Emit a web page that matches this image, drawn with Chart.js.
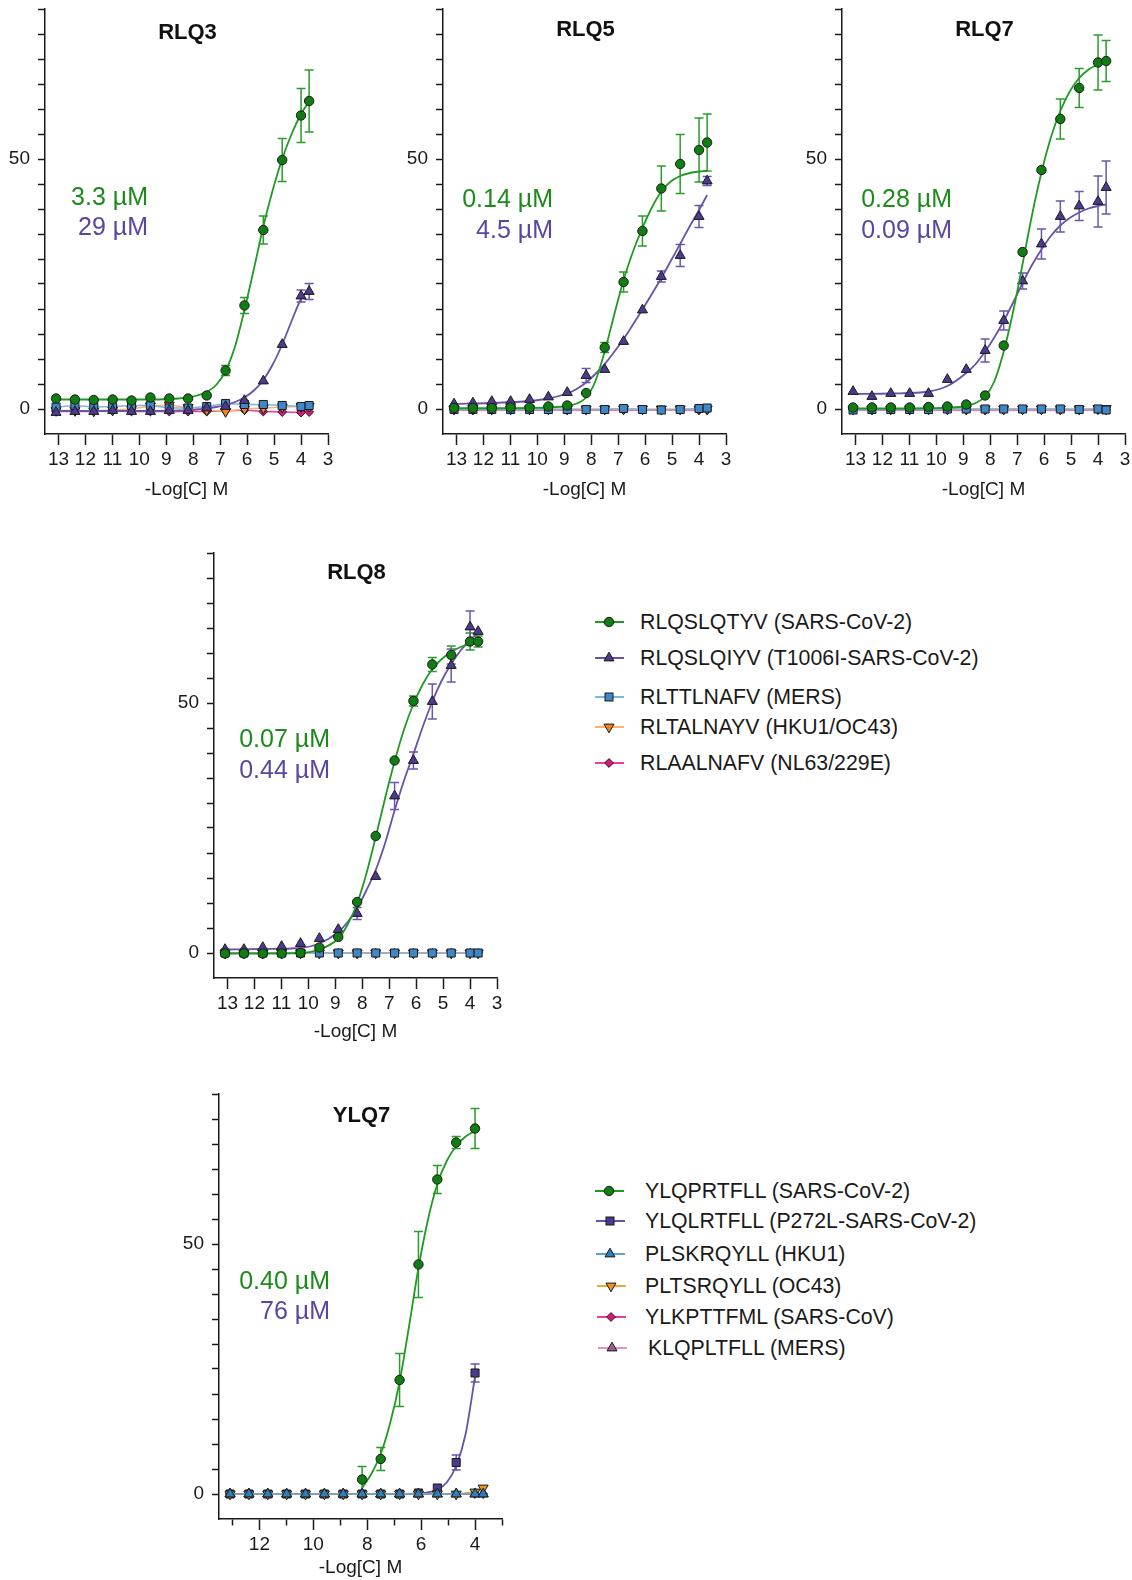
<!DOCTYPE html>
<html><head><meta charset="utf-8">
<script src="https://cdn.jsdelivr.net/npm/chart.js@4.4.0/dist/chart.umd.min.js"></script>
<style>
html,body{margin:0;padding:0;background:#fff;overflow:hidden;width:1132px;height:1580px;}
canvas{position:absolute;}
.row{position:absolute;height:24px;line-height:24px;white-space:nowrap;font-family:"Liberation Sans",Arial,sans-serif;font-size:21.3px;color:#1a1a1a;}
svg{position:absolute;}
</style></head><body>
<canvas id="c1" width="340" height="510" style="left:0;top:0"></canvas>
<canvas id="c2" width="340" height="510" style="left:398px;top:0"></canvas>
<canvas id="c3" width="335" height="510" style="left:797px;top:0"></canvas>
<canvas id="c4" width="340" height="510" style="left:169px;top:544px"></canvas>
<canvas id="c5" width="340" height="495" style="left:174px;top:1085px"></canvas>
<div id="legends"></div>
<script>
// ---------- data ----------
const logC = [13.09, 12.39, 11.69, 10.99, 10.29, 9.59, 8.89, 8.19, 7.50, 6.80, 6.10, 5.40, 4.70, 4.00, 3.70];
const fitX = [13.09, 11.69, 10.29, 9.59, 8.89, 8.54, 8.19, 7.85, 7.50, 7.15, 6.80, 6.45, 6.10, 5.75, 5.40, 5.05, 4.70, 4.35, 4.00, 3.70];
const xTickValues = [13, 12, 11, 10, 9, 8, 7, 6, 5, 4, 3];
const xLabelsRLQ = [13, 12, 11, 10, 9, 8, 7, 6, 5, 4, 3];
const xLabelsYLQ = [12, 10, 8, 6, 4];
const yTickValues = [0, 5, 10, 15, 20, 25, 30, 35, 40, 45, 50, 55, 60, 65, 70, 75, 80];
const yLabels = [0, 50];

const panelTitles = ['RLQ3', 'RLQ5', 'RLQ7', 'RLQ8', 'YLQ7'];
const ic50WT = ['3.3 µM', '0.14 µM', '0.28 µM', '0.07 µM', '0.40 µM'];
const ic50Mut = ['29 µM', '4.5 µM', '0.09 µM', '0.44 µM', '76 µM'];

const rlqNames = ['RLQSLQTYV (SARS-CoV-2)', 'RLQSLQIYV (T1006I-SARS-CoV-2)', 'RLTTLNAFV (MERS)', 'RLTALNAYV (HKU1/OC43)', 'RLAALNAFV (NL63/229E)'];
const ylqNames = ['YLQPRTFLL (SARS-CoV-2)', 'YLQLRTFLL (P272L-SARS-CoV-2)', 'PLSKRQYLL (HKU1)', 'PLTSRQYLL (OC43)', 'YLKPTTFML (SARS-CoV)', 'KLQPLTFLL (MERS)'];

// RLQ3
const rlq3WT = [2.1, 1.9, 1.8, 1.9, 1.7, 2.3, 2.1, 2.1, 2.7, 7.7, 20.7, 35.8, 49.8, 58.7, 61.6];
const rlq3WTErr = [0, 0, 0, 0, 0, 0, 0, 0, 0.3, 1.0, 1.6, 2.8, 4.3, 5.4, 6.2];
const rlq3WTFit = [1.9, 1.9, 1.9, 1.9, 2.0, 2.1, 2.3, 2.7, 3.4, 4.8, 7.6, 12.5, 19.8, 28.0, 36.5, 43.8, 50.0, 55.0, 59.0, 61.5];
const rlq3Mut = [-0.7, -0.5, -0.5, -0.3, -0.5, -0.5, -0.3, -0.3, 0.2, 0.5, 1.7, 5.6, 12.9, 22.6, 23.5];
const rlq3MutErr = [0, 0, 0, 0, 0, 0, 0, 0, 0, 0, 0, 0, 0, 1.2, 1.6];
const rlq3MutFit = [-0.4, -0.4, -0.4, -0.4, -0.35, -0.3, -0.25, -0.1, 0.1, 0.4, 0.8, 1.4, 2.3, 3.7, 5.8, 8.9, 12.9, 17.6, 22.0, 24.0];
const rlq3MERS = [0.4, 0.7, 0.4, 0.5, 0.7, 0.7, 0.2, 0.2, 0.5, 1.1, 0.9, 0.9, 0.7, 0.5, 0.7];
const rlq3HKU = [-0.3, -0.3, -0.4, -0.2, 0.0, 0.6, 0.8, 0.3, -0.2, -0.5, 0.0, 0.2, 0.4, 0.5, 0.5];
const rlq3NL63 = [-0.5, -0.5, -0.5, -0.4, -0.5, -0.5, -0.5, -0.5, -0.5, -0.4, -0.2, -0.5, -0.6, -0.7, -0.6];

// RLQ5
const rlq5WT = [0.2, 0.2, 0.2, 0.3, 0.3, 0.5, 0.7, 3.2, 12.3, 25.4, 35.6, 44.1, 49.0, 51.8, 53.3];
const rlq5WTErr = [0, 0, 0, 0, 0, 0, 0, 0, 1.0, 2.0, 3.0, 4.5, 5.9, 6.4, 5.7];
const rlq5WTFit = [0.15, 0.15, 0.2, 0.3, 0.6, 1.1, 2.3, 5.5, 11.5, 18.8, 25.8, 31.5, 36.2, 40.3, 43.5, 45.5, 46.6, 47.2, 47.5, 47.6];
const rlq5Mut = [1.0, 1.2, 1.5, 1.5, 1.9, 2.4, 3.3, 6.7, 7.9, 13.5, 19.8, 26.5, 30.7, 38.5, 45.6];
const rlq5MutErr = [0, 0, 0, 0, 0, 0, 0, 1.4, 0, 0, 0, 1.1, 2.2, 2.2, 0.9];
const rlq5MutFit = [1.0, 1.2, 1.6, 2.1, 3.1, 4.0, 5.3, 7.0, 9.0, 11.4, 14.0, 16.9, 19.9, 23.0, 26.2, 29.6, 33.0, 36.5, 39.8, 42.8];
const rlq5MERS = [-0.1, -0.1, -0.1, -0.1, -0.1, -0.1, -0.1, -0.1, -0.1, 0.1, -0.1, -0.2, -0.1, 0.1, 0.2];
const rlq5HKU = [0, 0, 0, 0, 0, 0, 0, 0, 0, 0, 0, 0, 0, 0, 0];
const rlq5NL63 = [-0.2, -0.2, -0.2, -0.2, -0.2, -0.2, -0.2, -0.2, -0.2, -0.2, -0.2, -0.2, -0.2, -0.2, -0.2];

// RLQ7
const rlq7WT = [0.3, 0.3, 0.3, 0.3, 0.4, 0.5, 0.9, 2.7, 12.7, 31.4, 47.8, 58.0, 64.2, 69.3, 69.6];
const rlq7WTErr = [0, 0, 0, 0, 0, 0, 0, 0, 0, 0, 0, 4.0, 3.9, 5.5, 4.1];
const rlq7WTFit = [0.1, 0.1, 0.15, 0.25, 0.6, 1.2, 2.5, 5.5, 11.5, 19.5, 29.0, 38.8, 47.3, 54.3, 59.6, 63.5, 66.2, 67.9, 68.9, 69.4];
const rlq7Mut = [3.5, 2.5, 3.1, 3.1, 3.1, 5.9, 7.9, 11.7, 17.7, 25.6, 33.0, 38.5, 40.6, 41.5, 44.3];
const rlq7MutErr = [0, 0, 0, 0, 0, 0, 0, 2.3, 1.9, 1.6, 3.0, 3.1, 2.9, 5.1, 5.3];
const rlq7MutFit = [3.0, 3.1, 3.5, 4.6, 7.2, 9.0, 11.5, 14.3, 17.6, 21.3, 25.2, 28.8, 31.9, 34.6, 36.7, 38.2, 39.3, 40.1, 40.6, 40.9];
const rlq7MERS = [-0.2, -0.1, -0.1, -0.1, -0.1, 0, 0, 0, 0, 0, 0, 0, -0.1, 0, -0.2];
const rlq7HKU = [0, 0, 0, 0, 0, 0, 0, 0, 0, 0, 0, 0, 0, 0.1, 0.1];
const rlq7NL63 = [-0.2, -0.2, -0.2, -0.2, -0.2, -0.2, -0.2, -0.2, -0.2, -0.2, -0.2, -0.2, -0.2, -0.2, -0.2];

// RLQ8
const rlq8WT = [-0.1, -0.1, -0.1, -0.1, 0.0, 1.1, 3.2, 10.2, 23.4, 38.5, 50.4, 57.7, 59.6, 62.3, 62.3];
const rlq8WTErr = [0, 0, 0, 0, 0, 0, 0, 0, 0, 0, 1.0, 1.4, 1.8, 1.7, 1.1];
const rlq8WTFit = [-0.1, -0.1, 0.0, 0.7, 2.9, 5.7, 9.9, 15.8, 23.2, 31.0, 38.3, 44.7, 49.8, 53.8, 56.8, 58.8, 60.2, 61.2, 61.8, 62.1];
const rlq8Mut = [0.7, 0.7, 1.1, 1.3, 1.9, 2.9, 4.7, 7.9, 15.3, 31.4, 38.5, 50.3, 57.5, 65.2, 64.3];
const rlq8MutErr = [0, 0, 0, 0, 0, 0, 0, 1.2, 0, 2.7, 1.7, 3.5, 3.3, 3.2, 0];
const rlq8MutFit = [0.7, 0.8, 1.0, 1.9, 4.2, 6.2, 8.9, 12.5, 16.6, 22.0, 28.5, 34.5, 39.8, 45.3, 50.3, 54.5, 57.8, 60.5, 62.6, 64.0];
const rlq8MERS = [0, 0, 0, 0, 0, 0, 0, 0, 0, 0, 0, 0, 0, 0, 0];
const rlq8HKU = [0, 0, 0, 0, 0, 0, 0, 0, 0, 0, 0, 0, 0, 0, 0];
const rlq8NL63 = [0, 0, 0, 0, 0, 0, 0, 0, 0, 0, 0, 0, 0, 0, 0];

// YLQ7
const ylqWTX = [8.19, 7.50, 6.80, 6.10, 5.40, 4.70, 4.00];
const ylqWT = [2.9, 7.0, 22.8, 45.9, 62.9, 70.3, 73.1];
const ylqWTErr = [2.6, 2.3, 5.3, 6.6, 2.8, 1.2, 4.0];
const ylqWTFitX = [8.19, 7.85, 7.50, 7.15, 6.80, 6.45, 6.10, 5.75, 5.40, 5.05, 4.70, 4.35, 4.00];
const ylqWTFit = [1.2, 4.0, 8.0, 14.2, 22.4, 33.5, 45.2, 54.8, 62.0, 66.6, 69.6, 71.5, 72.6];
const ylqMutX = [13.09, 12.39, 11.69, 10.99, 10.29, 9.59, 8.89, 8.19, 7.50, 6.80, 6.10, 5.40, 4.70, 4.00];
const ylqMut = [0, 0, 0, 0, 0, 0, 0, 0, 0, 0, 0.2, 1.2, 6.3, 24.2];
const ylqMutErr = [0, 0, 0, 0, 0, 0, 0, 0, 0, 0, 0, 0, 1.5, 1.8];
const ylqMutFitX = [8.19, 7.50, 6.80, 6.10, 5.75, 5.40, 5.05, 4.70, 4.35, 4.00];
const ylqMutFit = [0, 0, 0, 0.1, 0.3, 0.9, 2.3, 5.6, 12.0, 23.5];
const ylqHKU1 = [0, 0, 0, 0, 0, 0, 0, 0, 0, 0, 0, 0, 0, 0, 0];
const ylqOC43 = [0, 0, 0, 0, 0, 0, 0, 0, 0, 0, 0, 0, 0, 0.4, 1.2];
const ylqSARS = [0, 0, 0, 0, 0, 0, 0, 0, 0, 0, 0, 0, 0, 0, 0];
const ylqMERS = [0, 0, 0, 0, 0, 0, 0, 0, 0, 0, 0, 0, 0, 0, 0];

// ---------- styles ----------
const FONT = '"Liberation Sans", Arial, Helvetica, sans-serif';
const INK = '#1a1a1a';
const COL = {
  wt:    {fill: '#0f7d12', line: '#1f9a22', err: '#2a9c2a', text: '#1b8c1b'},
  mut:   {fill: '#4b3a8d', line: '#6852aa', err: '#6a56ae', text: '#5b45a0'},
  mers:  {fill: '#3f87c6', line: '#80b5e0'},
  hku:   {fill: '#f5821f', line: '#fbb374'},
  nl63:  {fill: '#d8187e', line: '#ee3d98'},
  yhku1: {fill: '#2b80c0', line: '#5ea3d8'},
  yoc43: {fill: '#ea961e', line: '#eda83c'},
  ysars: {fill: '#d8187e', line: '#ee3d98'},
  ymers: {fill: '#a35d93', line: '#dd96c7'}
};
const SHAPE = {
  circle: {style: 'circle', r: 4.7, rot: 0},
  tri: {style: 'triangle', r: 5.8, rot: 0},
  square: {style: 'rect', r: 5.7, rot: 0},
  down: {style: 'triangle', r: 5.8, rot: 180},
  diamond: {style: 'rectRot', r: 4.4, rot: 0}
};

function pointSet(xs, ys, color, shape, errs, showLine) {
  return {
    data: ys.map((y, i) => ({x: xs[i], y: y})),
    showLine: !!showLine,
    borderColor: color.line,
    borderWidth: 1.5,
    tension: 0,
    pointStyle: shape.style,
    pointRadius: shape.r,
    pointRotation: shape.rot,
    pointBackgroundColor: color.fill,
    pointBorderColor: INK,
    pointBorderWidth: 1,
    errors: errs || null,
    errColor: color.err
  };
}
function fitSet(xs, ys, color) {
  return {
    data: ys.map((y, i) => ({x: xs[i], y: y})),
    showLine: true,
    borderColor: color.line,
    borderWidth: 1.8,
    pointRadius: 0,
    cubicInterpolationMode: 'monotone',
    fill: false
  };
}

const errorBarPlugin = {
  id: 'errBars',
  beforeDatasetsDraw(chart) {
    const ctx = chart.ctx, xs = chart.scales.x, ys = chart.scales.y;
    chart.data.datasets.forEach(ds => {
      if (!ds.errors) return;
      ctx.save();
      ctx.strokeStyle = ds.errColor;
      ctx.lineWidth = 1.5;
      ds.data.forEach((p, i) => {
        const e = ds.errors[i];
        if (!e) return;
        const px = xs.getPixelForValue(p.x);
        const yt = ys.getPixelForValue(p.y + e), yb = ys.getPixelForValue(p.y - e);
        ctx.beginPath();
        ctx.moveTo(px, yt); ctx.lineTo(px, yb);
        ctx.moveTo(px - 4.5, yt); ctx.lineTo(px + 4.5, yt);
        ctx.moveTo(px - 4.5, yb); ctx.lineTo(px + 4.5, yb);
        ctx.stroke();
      });
      ctx.restore();
    });
  }
};

const textPlugin = {
  id: 'panelText',
  afterDraw(chart, args, o) {
    const a = chart.chartArea, ctx = chart.ctx;
    ctx.save();
    ctx.textBaseline = 'middle';
    ctx.font = 'bold 22px ' + FONT;
    ctx.fillStyle = '#111';
    ctx.textAlign = 'center';
    ctx.fillText(o.title, (a.left + a.right) / 2 + 1, a.top + o.titleDy);
    ctx.font = '25px ' + FONT;
    ctx.textAlign = 'right';
    ctx.fillStyle = COL.wt.text;
    ctx.fillText(o.ic1, a.left + o.icDx, a.top + o.icDy1);
    ctx.fillStyle = COL.mut.text;
    ctx.fillText(o.ic2, a.left + o.icDx, a.top + o.icDy2);
    ctx.restore();
  }
};

function makePanel(id, p) {
  const labels = p.xLabels;
  new Chart(document.getElementById(id), {
    type: 'scatter',
    data: {datasets: p.datasets},
    options: {
      responsive: false, animation: false, devicePixelRatio: 1,
      layout: {padding: {left: 0, right: p.padR, top: 9, bottom: 0}},
      events: [],
      plugins: {
        legend: {display: false}, tooltip: {enabled: false},
        panelText: p.text
      },
      scales: {
        x: {
          type: 'linear', reverse: true, min: 3, max: 13.5,
          afterBuildTicks: s => { s.ticks = xTickValues.map(v => ({value: v})); },
          afterFit: s => { s.height = p.xHeight; s.paddingLeft = 0; s.paddingRight = 0; },
          ticks: {
            autoSkip: false, maxRotation: 0, padding: 3, color: INK,
            font: {family: FONT, size: 19},
            callback: v => labels.includes(v) ? String(v) : ''
          },
          grid: {
            display: true, drawOnChartArea: false, drawTicks: true,
            tickLength: 11, tickWidth: 1.5, tickColor: INK,
            tickBorderDash: c => (p.minorDash && c.tick && !labels.includes(c.tick.value)) ? [6, 30] : []
          },
          border: {display: true, color: INK, width: 1.5},
          title: {display: true, text: '-Log[C] M', color: INK,
                  font: {family: FONT, size: 19}, padding: {top: 0, bottom: p.titlePad}}
        },
        y: {
          type: 'linear', min: -5, max: 80,
          afterBuildTicks: s => { s.ticks = yTickValues.map(v => ({value: v})); },
          afterFit: s => { s.width = 45; s.paddingTop = 0; s.paddingBottom = 0; },
          ticks: {
            autoSkip: false, padding: 8, color: INK,
            font: {family: FONT, size: 19},
            callback: v => yLabels.includes(v) ? String(v) : ''
          },
          grid: {display: true, drawOnChartArea: false, drawTicks: true,
                 tickLength: 7, tickWidth: 1.5, tickColor: INK},
          border: {display: true, color: INK, width: 1.5}
        }
      }
    },
    plugins: [errorBarPlugin, textPlugin]
  });
}

function rlqSets(wt, wtErr, wtFit, mut, mutErr, mutFit, mers, hku, nl63) {
  return [
    pointSet(logC, wt, COL.wt, SHAPE.circle, wtErr, false),
    fitSet(fitX, wtFit, COL.wt),
    pointSet(logC, mut, COL.mut, SHAPE.tri, mutErr, false),
    fitSet(fitX, mutFit, COL.mut),
    pointSet(logC, mers, COL.mers, SHAPE.square, null, true),
    pointSet(logC, hku, COL.hku, SHAPE.down, null, true),
    pointSet(logC, nl63, COL.nl63, SHAPE.diamond, null, true)
  ];
}

makePanel('c1', {padR: 12, xHeight: 76, titlePad: 9, xLabels: xLabelsRLQ,
  datasets: rlqSets(rlq3WT, rlq3WTErr, rlq3WTFit, rlq3Mut, rlq3MutErr, rlq3MutFit, rlq3MERS, rlq3HKU, rlq3NL63),
  text: {title: panelTitles[0], titleDy: 24, ic1: ic50WT[0], ic2: ic50Mut[0], icDx: 103, icDy1: 189, icDy2: 219}});
makePanel('c2', {padR: 12, xHeight: 76, titlePad: 9, xLabels: xLabelsRLQ,
  datasets: rlqSets(rlq5WT, rlq5WTErr, rlq5WTFit, rlq5Mut, rlq5MutErr, rlq5MutFit, rlq5MERS, rlq5HKU, rlq5NL63),
  text: {title: panelTitles[1], titleDy: 21, ic1: ic50WT[1], ic2: ic50Mut[1], icDx: 110, icDy1: 191, icDy2: 222}});
makePanel('c3', {padR: 7, xHeight: 76, titlePad: 9, xLabels: xLabelsRLQ,
  datasets: rlqSets(rlq7WT, rlq7WTErr, rlq7WTFit, rlq7Mut, rlq7MutErr, rlq7MutFit, rlq7MERS, rlq7HKU, rlq7NL63),
  text: {title: panelTitles[2], titleDy: 21, ic1: ic50WT[2], ic2: ic50Mut[2], icDx: 110, icDy1: 191, icDy2: 222}});
makePanel('c4', {padR: 12, xHeight: 76, titlePad: 11, xLabels: xLabelsRLQ,
  datasets: rlqSets(rlq8WT, rlq8WTErr, rlq8WTFit, rlq8Mut, rlq8MutErr, rlq8MutFit, rlq8MERS, rlq8HKU, rlq8NL63),
  text: {title: panelTitles[3], titleDy: 20, ic1: ic50WT[3], ic2: ic50Mut[3], icDx: 116, icDy1: 187, icDy2: 218}});
makePanel('c5', {padR: 12, xHeight: 61, titlePad: 1, xLabels: xLabelsYLQ, minorDash: true,
  datasets: [
    pointSet(ylqWTX, ylqWT, COL.wt, SHAPE.circle, ylqWTErr, false),
    fitSet(ylqWTFitX, ylqWTFit, COL.wt),
    pointSet(logC, ylqHKU1, COL.yhku1, SHAPE.tri, null, true),
    pointSet(logC, ylqOC43, COL.yoc43, SHAPE.down, null, true),
    pointSet(ylqMutX, ylqMut, COL.mut, SHAPE.square, ylqMutErr, false),
    fitSet(ylqMutFitX, ylqMutFit, COL.mut),
    pointSet(logC, ylqSARS, COL.ysars, SHAPE.diamond, null, true),
    pointSet(logC, ylqMERS, COL.ymers, SHAPE.tri, null, true)
  ],
  text: {title: panelTitles[4], titleDy: 22, ic1: ic50WT[4], ic2: ic50Mut[4], icDx: 111, icDy1: 188, icDy2: 218}});

// ---------- legends ----------
function markerSVG(color, shape) {
  const cx = 14, cy = 8;
  let m = '';
  const st = 'fill="' + color.fill + '" stroke="' + INK + '" stroke-width="1"';
  if (shape === 'circle') m = '<circle cx="' + cx + '" cy="' + cy + '" r="4.7" ' + st + '/>';
  else if (shape === 'square') m = '<rect x="' + (cx - 4) + '" y="' + (cy - 4) + '" width="8" height="8" ' + st + '/>';
  else if (shape === 'tri') m = '<polygon points="' + cx + ',' + (cy - 5.8) + ' ' + (cx + 5) + ',' + (cy + 2.9) + ' ' + (cx - 5) + ',' + (cy + 2.9) + '" ' + st + '/>';
  else if (shape === 'down') m = '<polygon points="' + cx + ',' + (cy + 5.8) + ' ' + (cx + 5) + ',' + (cy - 2.9) + ' ' + (cx - 5) + ',' + (cy - 2.9) + '" ' + st + '/>';
  else if (shape === 'diamond') m = '<polygon points="' + cx + ',' + (cy - 4.4) + ' ' + (cx + 4.4) + ',' + cy + ' ' + cx + ',' + (cy + 4.4) + ' ' + (cx - 4.4) + ',' + cy + '" ' + st + '/>';
  return '<line x1="0" y1="' + cy + '" x2="29" y2="' + cy + '" stroke="' + color.line + '" stroke-width="2"/>' + m;
}
function addLegend(names, colors, shapes, rows, lineX, textX) {
  const host = document.getElementById('legends');
  names.forEach((n, i) => {
    const svg = document.createElementNS('http://www.w3.org/2000/svg', 'svg');
    svg.setAttribute('width', '30'); svg.setAttribute('height', '16');
    svg.style.left = lineX[i] + 'px'; svg.style.top = (rows[i] - 8) + 'px';
    svg.innerHTML = markerSVG(colors[i], shapes[i]);
    host.appendChild(svg);
    const d = document.createElement('div');
    d.className = 'row';
    d.style.left = textX[i] + 'px'; d.style.top = (rows[i] - 12) + 'px';
    d.textContent = n;
    host.appendChild(d);
  });
}
addLegend(rlqNames, [COL.wt, COL.mut, COL.mers, COL.hku, COL.nl63],
  ['circle', 'tri', 'square', 'down', 'diamond'],
  [622, 658, 697, 727, 763], [595, 595, 595, 595, 595], [640, 640, 640, 640, 640]);
addLegend(ylqNames, [COL.wt, COL.mut, COL.yhku1, COL.yoc43, COL.ysars, COL.ymers],
  ['circle', 'square', 'tri', 'down', 'diamond', 'tri'],
  [1191, 1221, 1254, 1286, 1317, 1348], [595, 596, 596, 597, 597, 598], [645, 645, 645, 645, 645, 648]);
</script>
</body></html>
